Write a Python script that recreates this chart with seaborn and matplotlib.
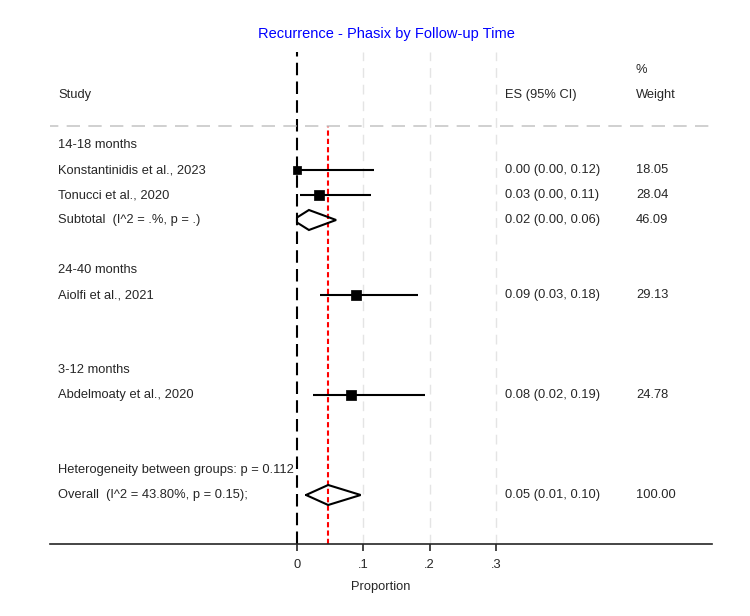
import numpy as np
import pandas as pd
import matplotlib
matplotlib.use("Agg")
import matplotlib.pyplot as plt
import seaborn as sns

# données
groupes = ["14-18 months", "24-40 months", "3-12 months"]
etudes = ["Konstantinidis et al., 2023", "Tonucci et al., 2020",
          "Aiolfi et al., 2021", "Abdelmoaty et al., 2020"]
groupe_etude = ["14-18 months", "14-18 months", "24-40 months", "3-12 months"]
es = [0.000, 0.033, 0.089, 0.081]
ic_bas = [0.000, 0.005, 0.035, 0.024]
ic_haut = [0.116, 0.111, 0.182, 0.193]
poids = [18.05, 28.04, 29.13, 24.78]
es_txt = ["0.00 (0.00, 0.12)", "0.03 (0.00, 0.11)",
          "0.09 (0.03, 0.18)", "0.08 (0.02, 0.19)"]
poids_txt = ["18.05", "28.04", "29.13", "24.78"]

# sous-total du premier groupe (borne basse tronquée à 0 au dessin)
sous_total_label = "Subtotal  (I^2 = .%, p = .)"
sous_total_es = [-0.006, 0.018, 0.059]   # bas, estimation, haut
sous_total_txt = "0.02 (0.00, 0.06)"
sous_total_poids = "46.09"

heterogeneite_txt = "Heterogeneity between groups: p = 0.112"
global_label = "Overall  (I^2 = 43.80%, p = 0.15);"
global_es = [0.0136, 0.047, 0.096]
global_txt = "0.05 (0.01, 0.10)"
global_poids = "100.00"

ticks = [0, 0.1, 0.2, 0.3]
tick_labels = ["0", ".1", ".2", ".3"]

# positions des lignes (en rangées)
rang_groupe = {"14-18 months": 0, "24-40 months": 5, "3-12 months": 9}
rang_etude = [1, 2, 6, 10]
rang_sous_total = 3
rang_het = 13
rang_global = 14

sns.set_style("white")
plt.rcParams["font.family"] = ["Liberation Sans", "DejaVu Sans"]

fig = plt.figure(figsize=(7.5, 6.16), dpi=100)
ax = fig.add_axes([50 / 750, 72 / 616, 662 / 750, 499 / 616])
ax.set_xlim(-0.3725, 0.6259)
ax.set_ylim(15.96, -4)

df = pd.DataFrame({"etude": etudes, "groupe": groupe_etude, "es": es,
                   "bas": ic_bas, "haut": ic_haut, "poids": poids,
                   "rang": rang_etude})

# lignes verticales de référence
ax.vlines(ticks[1:], 15.96, -3.72, color="#e4e4e4", lw=1, linestyles=(0, (7, 5)))
ax.vlines(0, 15.96, -3.72, color="black", lw=1.5, linestyles=(0, (6, 3)))
ax.vlines(global_es[1], 15.96, -0.76, color="red", lw=1.5, linestyles=(0, (2.5, 1.5)))
ax.hlines(-0.76, -0.38, 0.63, color="#c8c8c8", lw=1.2, linestyles=(0, (8, 5)))

# intervalles et carrés
ax.hlines(df["rang"], df["bas"], df["haut"], color="black", lw=1.5)
sns.scatterplot(data=df, x="es", y="rang", size="poids", sizes=(2.1 * min(poids), 2.1 * max(poids)),
                marker="s", color="black", edgecolor="black", legend=False, ax=ax, zorder=3)


def losange(bas, centre, haut, y, h=0.4):
    if bas < 0:
        # on coupe la pointe gauche à x = 0
        hc = h * (0 - bas) / (centre - bas)
        xs = [0, centre, haut, centre, 0, 0]
        ys = [y - hc, y - h, y, y + h, y + hc, y - hc]
    else:
        xs = [bas, centre, haut, centre, bas]
        ys = [y, y - h, y, y + h, y]
    ax.plot(xs, ys, color="black", lw=1.5, solid_joinstyle="miter")


losange(*sous_total_es, rang_sous_total)
losange(*global_es, rang_global)

# textes
x_lab, x_es, x_poids = -0.36, 0.313, 0.511
fs = 9.3
ax.text(x_poids, -3, "%", fontsize=fs, va="center")
ax.text(x_lab, -2, "Study", fontsize=fs, va="center")
ax.text(x_es, -2, "ES (95% CI)", fontsize=fs, va="center")
ax.text(x_poids, -2, "Weight", fontsize=fs, va="center")
for g in groupes:
    ax.text(x_lab, rang_groupe[g], g, fontsize=fs, va="center")
for _, r in df.iterrows():
    ax.text(x_lab, r["rang"], r["etude"], fontsize=fs, va="center")
for i, r in enumerate(rang_etude):
    ax.text(x_es, r, es_txt[i], fontsize=fs, va="center")
    ax.text(x_poids, r, poids_txt[i], fontsize=fs, va="center")
ax.text(x_lab, rang_sous_total, sous_total_label, fontsize=fs, va="center")
ax.text(x_es, rang_sous_total, sous_total_txt, fontsize=fs, va="center")
ax.text(x_poids, rang_sous_total, sous_total_poids, fontsize=fs, va="center")
ax.text(x_lab, rang_het, heterogeneite_txt, fontsize=fs, va="center")
ax.text(x_lab, rang_global, global_label, fontsize=fs, va="center")
ax.text(x_es, rang_global, global_txt, fontsize=fs, va="center")
ax.text(x_poids, rang_global, global_poids, fontsize=fs, va="center")

# axe des x
for s in ["top", "right", "left"]:
    ax.spines[s].set_visible(False)
ax.spines["bottom"].set_linewidth(1.2)
ax.set_yticks([])
ax.set_xticks(ticks)
ax.set_xticklabels(tick_labels, fontsize=fs)
ax.tick_params(axis="x", bottom=True, length=5, width=1.2, pad=6)
ax.set_xlabel("Proportion", fontsize=fs, labelpad=7)
ax.set_ylabel("")

fig.text(386 / 750, 1 - 34 / 616, "Recurrence - Phasix by Follow-up Time",
         color="#0000ff", fontsize=10.5, ha="center", va="center")

fig.savefig("out.png", dpi=100)
